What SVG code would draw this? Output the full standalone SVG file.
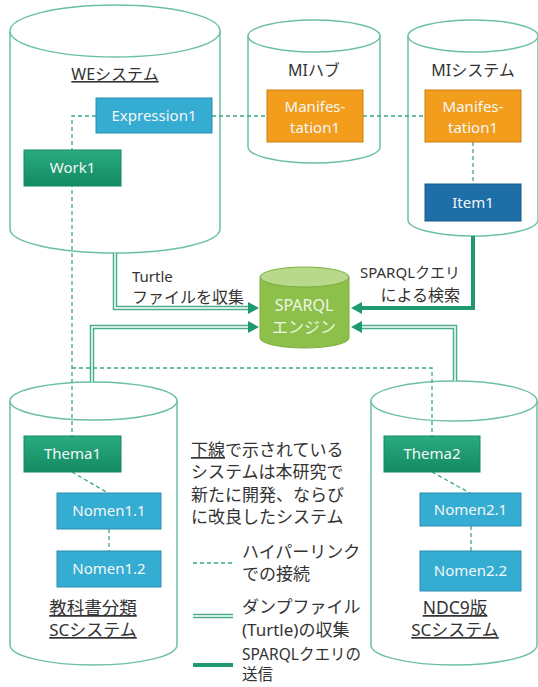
<svg xmlns="http://www.w3.org/2000/svg" width="538" height="687" viewBox="0 0 538 687">
<defs>
<linearGradient id="gGreen" x1="0" y1="0" x2="0" y2="1">
<stop offset="0" stop-color="#2aab80"/><stop offset="1" stop-color="#138a62"/>
</linearGradient>
<marker id="ah" markerUnits="userSpaceOnUse" markerWidth="11" markerHeight="12" refX="0" refY="6" orient="auto">
<path d="M0,0 L11,6 L0,12 z" fill="#1f9a70"/>
</marker>
<style>
.cyl{fill:#fff;stroke:#6cc0a2;stroke-width:1.5}
.lbl{font-family:"Noto Sans","Noto Sans CJK JP",sans-serif;font-size:16px;fill:#333;text-anchor:middle}
.bx{font-family:"Noto Sans","Noto Sans CJK JP",sans-serif;font-size:15px;fill:#f2f7f8;text-anchor:middle}
.leg{font-family:"Noto Sans","Noto Sans CJK JP",sans-serif;font-size:17px;fill:#333}
.blue{fill:#35acd1;stroke:#2b8db0;stroke-width:1}
.green{fill:url(#gGreen);stroke:#138a62;stroke-width:1}
.orange{fill:#f29d1c;stroke:#c97e0f;stroke-width:1}
.dblue{fill:#1e6fa8;stroke:#175a8a;stroke-width:1}
.dash{fill:none;stroke:#3aa883;stroke-width:1.3;stroke-dasharray:4 3}
.dblo{fill:none;stroke:#4aae8b;stroke-width:4.5}
.dbli{fill:none;stroke:#fff;stroke-width:1.5}
.thick{fill:none;stroke:#1f9a70;stroke-width:4}
</style>
</defs>

<!-- cylinders -->
<g id="we-system">
<path class="cyl" d="M10,31 L10,229 A105,24 0 0 0 220,229 L220,31"/>
<ellipse class="cyl" cx="115" cy="31" rx="105" ry="26"/>
<text class="lbl" x="115" y="80" text-decoration="underline">WEシステム</text>
</g>
<g id="mi-hub">
<path class="cyl" d="M248,36 L248,147 A66,16 0 0 0 380,147 L380,36"/>
<ellipse class="cyl" cx="314" cy="36" rx="66" ry="16"/>
<text class="lbl" x="314" y="76">MIハブ</text>
</g>
<g id="mi-system">
<path class="cyl" d="M408,36 L408,220 A65,16 0 0 0 538,220 L538,36"/>
<ellipse class="cyl" cx="473" cy="36" rx="65" ry="16"/>
<text class="lbl" x="473" y="76">MIシステム</text>
</g>
<g id="sc-textbook">
<path class="cyl" d="M10,401 L10,645 A83.5,20 0 0 0 177,645 L177,401"/>
<ellipse class="cyl" cx="93.5" cy="401" rx="83.5" ry="19"/>
<text class="lbl" x="93" y="614" style="font-size:17.5px" text-decoration="underline">教科書分類</text>
<text class="lbl" x="93" y="636" style="font-size:17px" text-decoration="underline">SCシステム</text>
</g>
<g id="sc-ndc9">
<path class="cyl" d="M371,401 L371,645 A83,20 0 0 0 537,645 L537,401"/>
<ellipse class="cyl" cx="454" cy="401" rx="83" ry="20"/>
<text class="lbl" x="455" y="614" style="font-size:17.5px" text-decoration="underline">NDC9版</text>
<text class="lbl" x="455" y="636" style="font-size:17px" text-decoration="underline">SCシステム</text>
</g>
<g id="sparql-engine">
<path d="M260,277 L260,338 A44.5,10 0 0 0 349,338 L349,277 z" fill="#8cc04a" stroke="#7cae3f" stroke-width="1"/>
<ellipse cx="304.5" cy="277" rx="44.5" ry="10" fill="#b8d98c" stroke="#7cae3f" stroke-width="1"/>
<text class="bx" x="304" y="311" style="font-size:16px;fill:#eef6e2">SPARQL</text>
<text class="bx" x="304" y="333" style="font-size:16px;fill:#eef6e2">エンジン</text>
</g>

<!-- connectors -->
<g id="connectors">
<path class="dash" d="M96,116 L72,116 L72,436"/>
<path class="dash" d="M72,368 L432,368 L432,436"/>
<path class="dash" d="M212,116 L267,116"/>
<path class="dash" d="M363,116 L425,116"/>
<path class="dash" d="M473,142 L473,184"/>
<path class="dash" d="M72,472 L108,493"/>
<path class="dash" d="M109,529 L109,551"/>
<path class="dash" d="M432,472 L470,493"/>
<path class="dash" d="M471,526 L471,551"/>
<path class="dblo" d="M115,253 L115,308 L248,308" marker-end="url(#ah)"/>
<path class="dbli" d="M115,253 L115,308 L248,308"/>
<path class="dblo" d="M92,382 L92,327 L248,327" marker-end="url(#ah)"/>
<path class="dbli" d="M92,382 L92,327 L248,327"/>
<path class="thick" d="M473,236 L473,308 L362,308" marker-end="url(#ah)"/>
<path class="dblo" d="M455,381 L455,327 L362,327" marker-end="url(#ah)"/>
<path class="dbli" d="M455,381 L455,327 L362,327"/>
</g>

<!-- boxes -->
<g id="expression1"><rect class="blue" x="96" y="98" width="116" height="35"/><text class="bx" x="154" y="121">Expression1</text></g>
<g id="work1"><rect class="green" x="24" y="150" width="97" height="36"/><text class="bx" x="72.5" y="173">Work1</text></g>
<g id="manifestation-hub"><rect class="orange" x="267" y="90" width="96" height="52"/><text class="bx" x="315" y="112">Manifes-</text><text class="bx" x="315" y="133">tation1</text></g>
<g id="manifestation-mi"><rect class="orange" x="425" y="90" width="96" height="52"/><text class="bx" x="473" y="112">Manifes-</text><text class="bx" x="473" y="133">tation1</text></g>
<g id="item1"><rect class="dblue" x="425" y="184" width="96" height="37"/><text class="bx" x="473" y="208">Item1</text></g>
<g id="thema1"><rect class="green" x="24" y="436" width="97" height="36"/><text class="bx" x="72.5" y="459">Thema1</text></g>
<g id="nomen1-1"><rect class="blue" x="57" y="493" width="104" height="36"/><text class="bx" x="109" y="516">Nomen1.1</text></g>
<g id="nomen1-2"><rect class="blue" x="57" y="551" width="104" height="36"/><text class="bx" x="109" y="574">Nomen1.2</text></g>
<g id="thema2"><rect class="green" x="384" y="436" width="96" height="36"/><text class="bx" x="432" y="459">Thema2</text></g>
<g id="nomen2-1"><rect class="blue" x="420" y="493" width="101" height="33"/><text class="bx" x="470.5" y="515">Nomen2.1</text></g>
<g id="nomen2-2"><rect class="blue" x="420" y="551" width="101" height="40"/><text class="bx" x="470.5" y="576">Nomen2.2</text></g>

<!-- arrow labels -->
<g id="labels">
<text class="leg" x="132" y="282" style="font-size:15px">Turtle</text>
<text class="leg" x="132" y="303" style="font-size:16px">ファイルを収集</text>
<text class="leg" x="460" y="278" style="font-size:15px;text-anchor:end">SPARQLクエリ</text>
<text class="leg" x="460" y="301" style="font-size:16px;text-anchor:end">による検索</text>
</g>

<!-- legend -->
<g id="legend">
<text class="leg" x="191" y="456"><tspan text-decoration="underline">下線</tspan>で示されている</text>
<text class="leg" x="191" y="478">システムは本研究で</text>
<text class="leg" x="191" y="501">新たに開発、ならび</text>
<text class="leg" x="191" y="523">に改良したシステム</text>
<line class="dash" x1="193" y1="563" x2="233" y2="563"/>
<text class="leg" x="242" y="558">ハイパーリンク</text>
<text class="leg" x="242" y="580">での接続</text>
<line class="dblo" x1="193" y1="616" x2="233" y2="616"/>
<line class="dbli" x1="193" y1="616" x2="233" y2="616"/>
<text class="leg" x="242" y="613">ダンプファイル</text>
<text class="leg" x="242" y="636">(Turtle)の収集</text>
<line class="thick" x1="193" y1="665" x2="233" y2="665"/>
<text class="leg" x="242" y="660" style="font-size:15.5px">SPARQLクエリの</text>
<text class="leg" x="242" y="680" style="font-size:15.5px">送信</text>
</g>
</svg>
